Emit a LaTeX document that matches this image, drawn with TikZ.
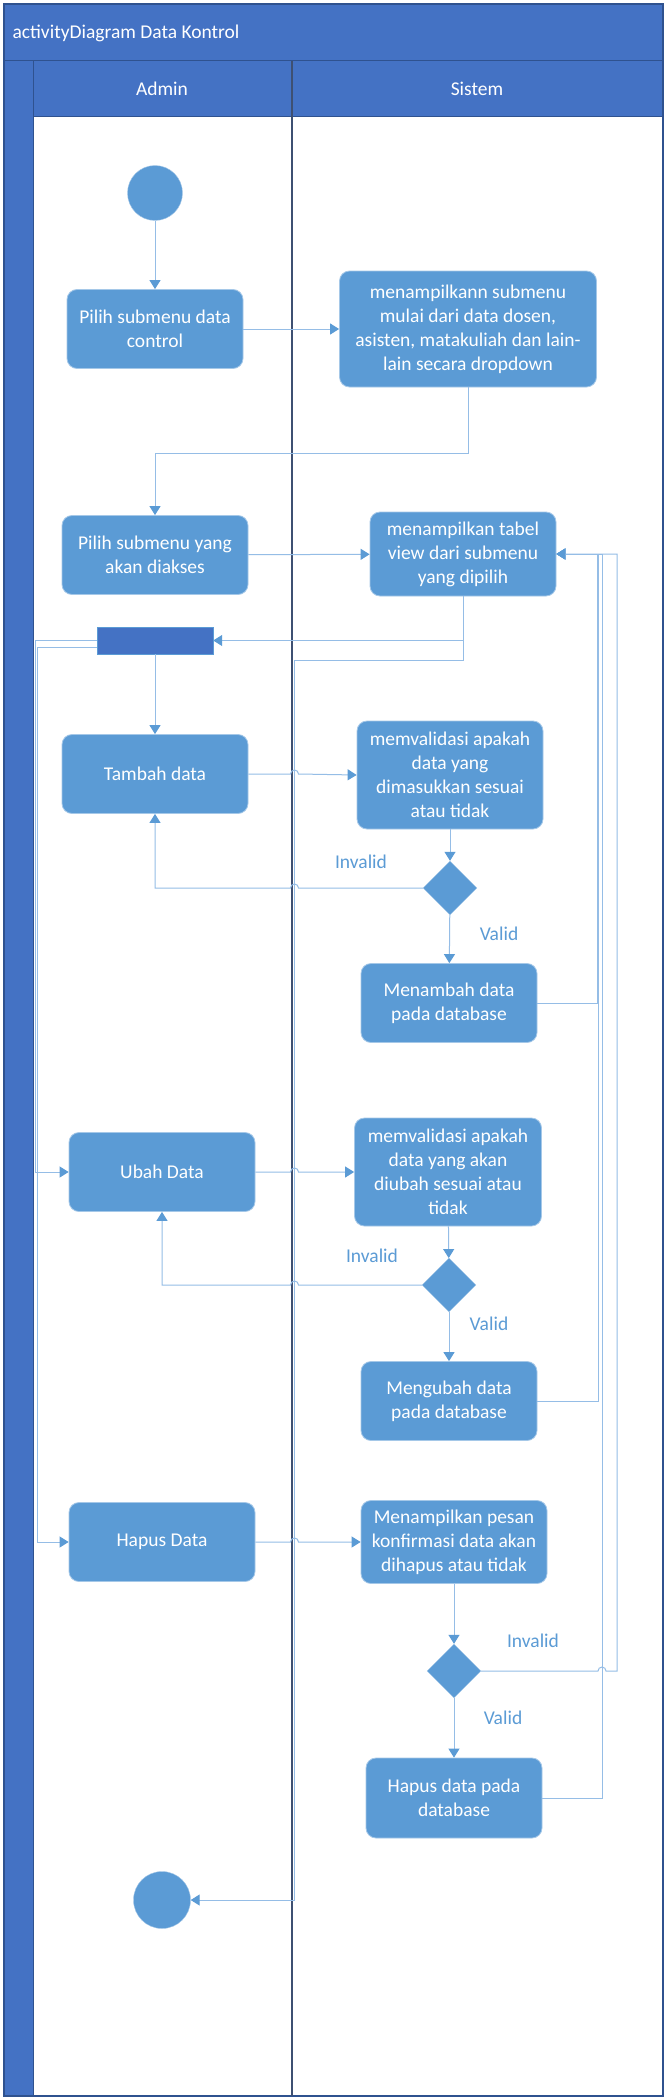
\documentclass[tikz,border=0pt]{standalone}
\usepackage{fontspec}
\setmainfont{Carlito}
\usepackage{tikz}
\usetikzlibrary{arrows.meta,shapes.geometric,calc}
\usepackage{xcolor}
\definecolor{bar}{HTML}{4472C4}
\definecolor{edge}{HTML}{2F528F}
\definecolor{divider}{HTML}{3E5072}
\definecolor{actblue}{HTML}{5B9BD5}
\definecolor{flow}{HTML}{95BDE6}

\begin{document}
\begin{tikzpicture}[x=1pt,y=-1pt,font=\fontsize{19.5}{24}\selectfont,
    actnode/.style={rounded corners=10pt, fill=actblue, draw=actblue!55!white, line width=0.8pt, text=white, align=center, inner sep=2pt},
    startend/.style={circle, fill=actblue, draw=actblue!55!white, minimum size=55pt, inner sep=0pt},
    cond/.style={diamond, fill=actblue, draw=actblue!55!white, minimum width=54pt, minimum height=54pt, inner sep=0pt},
    arr/.style={draw=flow, line width=1pt, -{Triangle[length=9pt,width=11pt,color=actblue]}},
    guard/.style={text=actblue}]

    \useasboundingbox (0,0) rectangle (664,2100);
    \fill[white] (0,0) rectangle (664,2100);
    \fill[bar] (4,4) rectangle (663,61);
    \fill[bar] (4,61) rectangle (33,2096);
    \fill[bar] (33,61) rectangle (663,117);
    \draw[edge, line width=1.2pt] (4,4) rectangle (663,2096);
    \draw[edge, line width=1pt] (4,61) -- (663,61) (33,61) -- (33,2096) (33,117) -- (663,117);
    \draw[divider, line width=1.5pt] (292,61) -- (292,2096);
    \node[text=white, anchor=west] (title) at (9,33) {activityDiagram Data Kontrol};
    \node[text=white] (admin) at (162,89) {Admin};
    \node[text=white] (sistem) at (477,89) {Sistem};
    \coordinate (lane) at (294.5,0);
    \coordinate (ret3) at (602,0);
    \coordinate (rim) at (617,0);

    \node[startend] (start) at (155,193) {};
    \node[actnode, minimum width=176pt, minimum height=79pt] (pilih1) at (155,329) {Pilih submenu data\\control};
    \node[actnode, minimum width=257pt, minimum height=116pt] (tampil1) at (468,329) {menampilkann submenu\\mulai dari data dosen,\\asisten, matakuliah dan lain-\\lain secara dropdown};
    \node[actnode, minimum width=186pt, minimum height=79pt] (pilih2) at (155,555) {Pilih submenu yang\\akan diakses};
    \node[actnode, minimum width=186pt, minimum height=84pt] (tampil2) at (463,554) {menampilkan tabel\\view dari submenu\\yang dipilih};
    \node[fill=bar, draw=actblue, minimum width=116pt, minimum height=27pt, inner sep=0pt] (fork) at (155,640.5) {};
    \node[actnode, minimum width=186pt, minimum height=79pt] (tambah) at (155,774) {Tambah data};
    \node[actnode, minimum width=186pt, minimum height=108pt] (cek1) at (450,775) {memvalidasi apakah\\data yang\\dimasukkan sesuai\\atau tidak};
    \node[cond] (dec1) at (450,888) {};
    \node[actnode, minimum width=176pt, minimum height=79pt] (tambahdb) at (449,1003) {Menambah data\\pada database};
    \node[actnode, minimum width=186pt, minimum height=79pt] (ubah) at (162,1172) {Ubah Data};
    \node[actnode, minimum width=187pt, minimum height=108pt] (cek2) at (448,1172) {memvalidasi apakah\\data yang akan\\diubah sesuai atau\\tidak};
    \node[cond] (dec2) at (449,1285) {};
    \node[actnode, minimum width=176pt, minimum height=79pt] (ubahdb) at (449,1401) {Mengubah data\\pada database};
    \node[actnode, minimum width=186pt, minimum height=79pt] (hapus) at (162,1542) {Hapus Data};
    \node[actnode, minimum width=186pt, minimum height=83pt] (pesan) at (454,1542) {Menampilkan pesan\\konfirmasi data akan\\dihapus atau tidak};
    \node[cond] (dec3) at (454,1671) {};
    \node[actnode, minimum width=176pt, minimum height=80pt] (hapusdb) at (454,1798) {Hapus data pada\\database};
    \node[startend, minimum size=57pt] (stop) at (162,1900) {};

    \node[guard] (inv1) at ($(dec1)+(-89,-26)$) {Invalid};
    \node[guard] (val1) at ($(dec1)+(49,46)$) {Valid};
    \node[guard] (inv2) at ($(dec2)+(-77,-29)$) {Invalid};
    \node[guard] (val2) at ($(dec2)+(40,39)$) {Valid};
    \node[guard] (inv3) at ($(dec3)+(79,-30)$) {Invalid};
    \node[guard] (val3) at ($(dec3)+(49,47)$) {Valid};

    \draw[arr] (start) -- (pilih1);
    \draw[arr] (pilih1) -- (tampil1);
    \draw[arr] (tampil1.south) -- ++(0,66) -| (pilih2.north);
    \draw[arr] (pilih2) -- (tampil2);
    \draw[arr] (tampil2.south) |- (fork.east);
    \draw[arr] (tampil2.south) -- ++(0,64) -| (294.5,1900) -- (stop.east);
    \draw[arr] (fork) -- (tambah);
    \draw[arr] (fork.west) -- ++(-61,0) |- (ubah.west);
    \draw[arr] ([yshift=-7pt]fork.west) -- ++(-59,0) |- (hapus.west);
    \draw[arr] (tambah.east) -- ([xshift=-4pt]tambah.east -| lane) arc[start angle=180,end angle=0,radius=4pt] -- (cek1.west);
    \draw[arr] (cek1) -- (dec1);
    \draw[arr] (dec1.west) -- ([xshift=4pt]dec1.west -| lane) arc[start angle=0,end angle=180,radius=4pt] -| (tambah.south);
    \draw[arr] (dec1) -- (tambahdb);
    \draw[arr] (tambahdb.east) -- ++(60,0) |- (tampil2.east);
    \draw[arr] (ubah.east) -- ([xshift=-4pt]ubah.east -| lane) arc[start angle=180,end angle=0,radius=4pt] -- (cek2.west);
    \draw[arr] (cek2) -- (dec2);
    \draw[arr] (dec2.west) -- ([xshift=4pt]dec2.west -| lane) arc[start angle=0,end angle=180,radius=4pt] -| (ubah.south);
    \draw[arr] (dec2) -- (ubahdb);
    \draw[arr] (ubahdb.east) -- ++(61,0) |- (tampil2.east);
    \draw[arr] (hapus.east) -- ([xshift=-4pt]hapus.east -| lane) arc[start angle=180,end angle=0,radius=4pt] -- (pesan.west);
    \draw[arr] (pesan) -- (dec3);
    \draw[arr] (dec3.east) -- ([xshift=-4pt]dec3.east -| ret3) arc[start angle=180,end angle=0,radius=4pt] -- (dec3.east -| rim) |- (tampil2.east);
    \draw[arr] (dec3) -- (hapusdb);
    \draw[arr] (hapusdb.east) -- ++(60,0) |- (tampil2.east);
\end{tikzpicture}
\end{document}
